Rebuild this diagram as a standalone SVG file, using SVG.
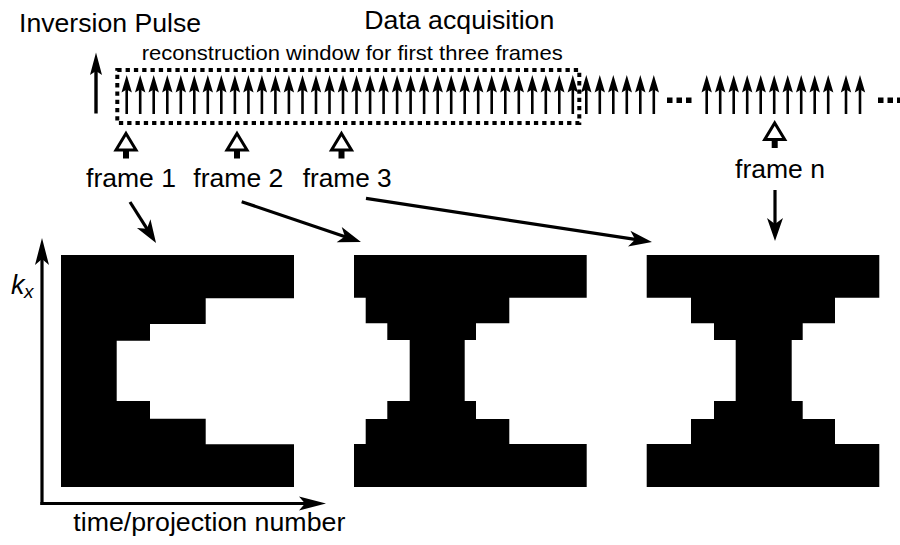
<svg xmlns="http://www.w3.org/2000/svg" xmlns:xlink="http://www.w3.org/1999/xlink" width="900" height="545" viewBox="0 0 900 545">
  <style>
    text { font-family: "Liberation Sans", Arial, sans-serif; fill: #000; }
    .big { font-size: 25.5px; }
    .small { font-size: 21px; }
    .link { stroke: #000; stroke-width: 3.2; fill: none; marker-end: url(#head); }
    .axis { stroke: #000; stroke-width: 3.2; fill: none; marker-end: url(#axisHead); }
    .kspace { fill: #000; stroke: none; }
    .marker-tri { fill: #fff; stroke: #000; stroke-width: 3; stroke-linejoin: miter; }
    .dot { fill: #000; }
  </style>
  <defs>
    <!-- barbed arrowhead, tip sits 12px beyond the line end -->
    <marker id="head" markerUnits="userSpaceOnUse" orient="auto" overflow="visible" refX="0" refY="0" markerWidth="1" markerHeight="1">
      <path d="M12,0 L-11,-8 L-5,0 L-11,8 Z" fill="#000"/>
    </marker>
    <marker id="axisHead" markerUnits="userSpaceOnUse" orient="auto" overflow="visible" refX="0" refY="0" markerWidth="1" markerHeight="1">
      <path d="M12,0 L-15,-7 L-9,0 L-15,7 Z" fill="#000"/>
    </marker>
    <!-- one acquisition pulse -->
    <g id="pulse">
      <line x1="0" y1="114" x2="0" y2="88" stroke="#000" stroke-width="2.6"/>
      <path d="M0,75 L-5.2,92.5 L0,89.5 L5.2,92.5 Z" fill="#000"/>
    </g>
    <!-- hollow frame pointer -->
    <g id="pointer">
      <rect x="-3" y="17" width="6" height="9" fill="#000"/>
      <path class="marker-tri" d="M0,1 L10,17.5 L-10,17.5 Z"/>
    </g>
  </defs>

  <rect width="900" height="545" fill="#fff"/>

  <!-- titles -->
  <g id="title-inversion">
    <text class="big" x="19" y="32" textLength="182" lengthAdjust="spacingAndGlyphs">Inversion Pulse</text>
  </g>
  <g id="title-acquisition">
    <text class="big" x="364.3" y="29" textLength="190" lengthAdjust="spacingAndGlyphs">Data acquisition</text>
  </g>

  <!-- inversion pulse -->
  <g id="inversion-pulse">
    <line x1="96" y1="113.5" x2="96" y2="70" stroke="#000" stroke-width="3.4"/>
    <path d="M96,52.5 L90,75 L96,71 L102,75 Z" fill="#000"/>
  </g>

  <!-- acquisition pulse train -->
  <g id="pulse-train">
    <use xlink:href="#pulse" x="126.7"/>
    <use xlink:href="#pulse" x="140.2"/>
    <use xlink:href="#pulse" x="153.7"/>
    <use xlink:href="#pulse" x="167.3"/>
    <use xlink:href="#pulse" x="180.8"/>
    <use xlink:href="#pulse" x="194.3"/>
    <use xlink:href="#pulse" x="207.8"/>
    <use xlink:href="#pulse" x="221.3"/>
    <use xlink:href="#pulse" x="234.9"/>
    <use xlink:href="#pulse" x="248.4"/>
    <use xlink:href="#pulse" x="261.9"/>
    <use xlink:href="#pulse" x="275.4"/>
    <use xlink:href="#pulse" x="288.9"/>
    <use xlink:href="#pulse" x="302.5"/>
    <use xlink:href="#pulse" x="316.0"/>
    <use xlink:href="#pulse" x="329.5"/>
    <use xlink:href="#pulse" x="343.0"/>
    <use xlink:href="#pulse" x="356.5"/>
    <use xlink:href="#pulse" x="370.1"/>
    <use xlink:href="#pulse" x="383.6"/>
    <use xlink:href="#pulse" x="397.1"/>
    <use xlink:href="#pulse" x="410.6"/>
    <use xlink:href="#pulse" x="424.1"/>
    <use xlink:href="#pulse" x="437.7"/>
    <use xlink:href="#pulse" x="451.2"/>
    <use xlink:href="#pulse" x="464.7"/>
    <use xlink:href="#pulse" x="478.2"/>
    <use xlink:href="#pulse" x="491.7"/>
    <use xlink:href="#pulse" x="505.3"/>
    <use xlink:href="#pulse" x="518.8"/>
    <use xlink:href="#pulse" x="532.3"/>
    <use xlink:href="#pulse" x="545.8"/>
    <use xlink:href="#pulse" x="559.3"/>
    <use xlink:href="#pulse" x="572.8"/>
    <use xlink:href="#pulse" x="586.3"/>
    <use xlink:href="#pulse" x="599.8"/>
    <use xlink:href="#pulse" x="613.3"/>
    <use xlink:href="#pulse" x="626.8"/>
    <use xlink:href="#pulse" x="640.3"/>
    <use xlink:href="#pulse" x="653.8"/>
    <rect class="dot" x="667" y="97.5" width="5.5" height="5.5"/>
    <rect class="dot" x="676.5" y="97.5" width="5.5" height="5.5"/>
    <rect class="dot" x="686" y="97.5" width="5.5" height="5.5"/>
    <use xlink:href="#pulse" x="706.7"/>
    <use xlink:href="#pulse" x="720.2"/>
    <use xlink:href="#pulse" x="733.7"/>
    <use xlink:href="#pulse" x="747.2"/>
    <use xlink:href="#pulse" x="760.7"/>
    <use xlink:href="#pulse" x="774.2"/>
    <use xlink:href="#pulse" x="787.7"/>
    <use xlink:href="#pulse" x="801.2"/>
    <use xlink:href="#pulse" x="814.7"/>
    <use xlink:href="#pulse" x="828.2"/>
    <use xlink:href="#pulse" x="846"/>
    <use xlink:href="#pulse" x="860"/>
    <rect class="dot" x="878" y="97.5" width="5.5" height="5.5"/>
    <rect class="dot" x="887.5" y="97.5" width="5.5" height="5.5"/>
    <rect class="dot" x="897" y="97.5" width="3" height="5.5"/>
  </g>

  <!-- reconstruction window -->
  <g id="recon-window">
    <rect x="117.3" y="70" width="462" height="53" fill="none" stroke="#000" stroke-width="4" stroke-dasharray="4.3 4"/>
    <text class="small" x="141.7" y="60" textLength="421" lengthAdjust="spacingAndGlyphs">reconstruction window for first three frames</text>
  </g>

  <!-- frame pointers and labels -->
  <g id="frame-1">
    <use xlink:href="#pointer" x="126" y="132.5"/>
    <text class="big" x="86" y="186.7" textLength="90" lengthAdjust="spacingAndGlyphs">frame 1</text>
  </g>
  <g id="frame-2">
    <use xlink:href="#pointer" x="237" y="132.5"/>
    <text class="big" x="193.3" y="186.7" textLength="90" lengthAdjust="spacingAndGlyphs">frame 2</text>
  </g>
  <g id="frame-3">
    <use xlink:href="#pointer" x="341.5" y="132.5"/>
    <text class="big" x="302.7" y="186.7" textLength="89" lengthAdjust="spacingAndGlyphs">frame 3</text>
  </g>
  <g id="frame-n">
    <use xlink:href="#pointer" x="774.7" y="122"/>
    <text class="big" x="735" y="178" textLength="90" lengthAdjust="spacingAndGlyphs">frame n</text>
  </g>

  <!-- k-space coverage of each frame -->
  <g id="kspace-1">
    <polygon class="kspace" points="61,255 294,255 294,298.3 205.7,298.3 205.7,324 150,324 150,340.7 116.7,340.7 116.7,401 150,401 150,418.7 205.7,418.7 205.7,444.3 294,444.3 294,487 61,487"/>
  </g>
  <g id="kspace-2">
    <polygon class="kspace" points="354,255 586.7,255 586.7,297.7 509.3,297.7 509.3,323.3 476,323.3 476,340 464.7,340 464.7,401 476,401 476,419 509.3,419 509.3,444 586.7,444 586.7,487 354,487 354,444 365.7,444 365.7,419 387.3,419 387.3,401 409.7,401 409.7,340 387.3,340 387.3,323.3 365.7,323.3 365.7,297.7 354,297.7"/>
  </g>
  <g id="kspace-3">
    <polygon class="kspace" points="646.7,255 879.3,255 879.3,297.7 835,297.7 835,323.3 802.7,323.3 802.7,340 791.7,340 791.7,401 802.7,401 802.7,419 835,419 835,444 879.3,444 879.3,487 646.7,487 646.7,444 691,444 691,419 714,419 714,401 735.7,401 735.7,340 714,340 714,323.3 691,323.3 691,297.7 646.7,297.7"/>
  </g>

  <!-- axes -->
  <g id="axes">
    <line class="axis" x1="42" y1="505" x2="42" y2="250"/>
    <line class="axis" x1="40.4" y1="503.5" x2="314" y2="503.5"/>
    <text x="11" y="294" style="font-size:27px;font-style:italic">k</text>
    <text x="24" y="298" style="font-size:19px;font-style:italic">x</text>
    <text class="big" x="73.3" y="531" textLength="272" lengthAdjust="spacingAndGlyphs">time/projection number</text>
  </g>

  <!-- connectors from frame labels to their k-space coverage -->
  <g id="connectors">
    <line class="link" x1="130" y1="202" x2="149.6" y2="232.9"/>
    <line class="link" x1="241.7" y1="201.7" x2="349.6" y2="238.2"/>
    <line class="link" x1="366" y1="198.3" x2="640.1" y2="240.2"/>
    <line class="link" x1="775" y1="190" x2="775" y2="229"/>
  </g>
</svg>
